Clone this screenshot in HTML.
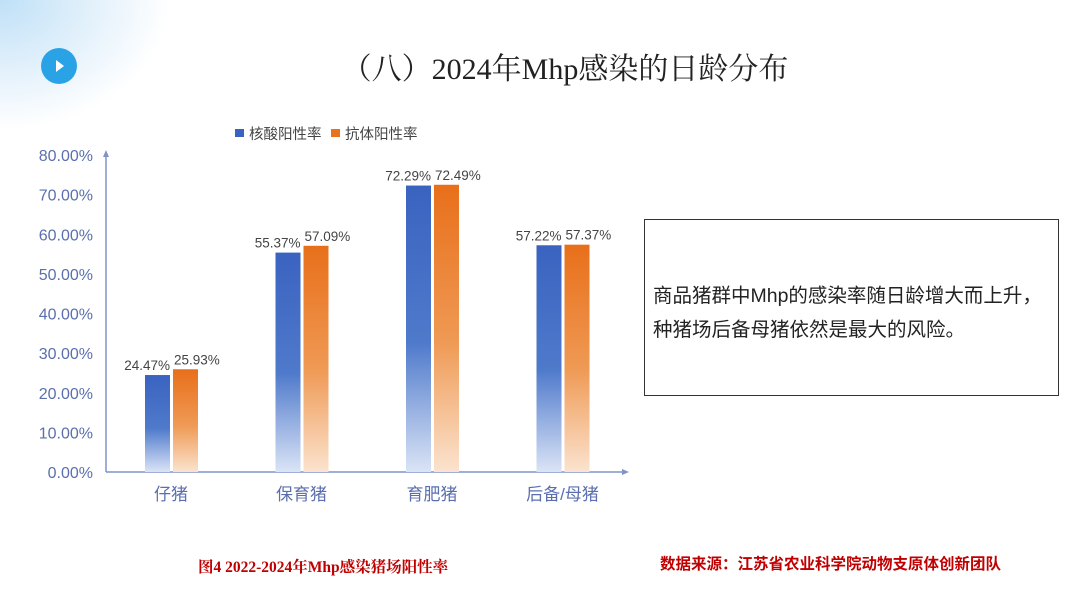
<!DOCTYPE html>
<html><head><meta charset="utf-8"><style>
body{margin:0;width:1080px;height:608px;overflow:hidden;background:#fff;font-family:"Liberation Sans","Noto Sans CJK SC",sans-serif;position:relative}
.bg{position:absolute;left:0;top:0;width:1080px;height:608px;background:radial-gradient(ellipse 170px 130px at 0 0,#bfe0f7 0%,#e3f1fb 55%,rgba(255,255,255,0) 100%)}
</style></head><body>
<div class="bg"></div>
<svg width="1080" height="608" style="position:absolute;left:0;top:0">
<defs>
<linearGradient id="gb" x1="0" y1="0" x2="0" y2="1"><stop offset="0" stop-color="#3a63c0"/><stop offset="0.55" stop-color="#4f7acb"/><stop offset="1" stop-color="#dbe4f6"/></linearGradient>
<linearGradient id="go" x1="0" y1="0" x2="0" y2="1"><stop offset="0" stop-color="#e86f1a"/><stop offset="0.55" stop-color="#ef9a55"/><stop offset="1" stop-color="#fbe3cf"/></linearGradient>
</defs>
<circle cx="59" cy="66" r="18" fill="#29a3e6"/>
<polygon points="56,60 64,66 56,72" fill="#fff"/>
<text x="565" y="79" text-anchor="middle" font-family="Liberation Serif,Noto Serif CJK SC,serif" font-size="30" fill="#222">（八）2024年Mhp感染的日龄分布</text>
<rect x="235" y="129" width="9" height="8" fill="#3a63c0"/>
<text x="249" y="139" font-size="14.5" fill="#444">核酸阳性率</text>
<rect x="331" y="129" width="9" height="8" fill="#e8731f"/>
<text x="345" y="139" font-size="14.5" fill="#444">抗体阳性率</text>
<g id="chart"></g>
<rect x="644.5" y="219.5" width="414" height="176" fill="none" stroke="#333"/>
<text x="653" y="302" font-size="19.5" fill="#222">商品猪群中Mhp的感染率随日龄增大而上升，</text>
<text x="653" y="336" font-size="19.5" fill="#222">种猪场后备母猪依然是最大的风险。</text>
<text x="198" y="572" font-family="Liberation Serif,Noto Serif CJK SC,serif" font-weight="bold" font-size="15.5" fill="#c00000">图4 2022-2024年Mhp感染猪场阳性率</text>
<text x="660" y="569" font-weight="bold" font-size="15.5" fill="#c00000">数据来源：江苏省农业科学院动物支原体创新团队</text>
</svg>
<script>
const categories=["仔猪","保育猪","育肥猪","后备/母猪"];
const nucleic=[24.47,55.37,72.29,57.22];
const antibody=[25.93,57.09,72.49,57.37];
const yTicks=[0,10,20,30,40,50,60,70,80];
const NS="http://www.w3.org/2000/svg";
const g=document.getElementById('chart');
const y=v=>472-v*(317/80);
const xc=i=>171+i*130.5;
function mk(t,a){const e=document.createElementNS(NS,t);for(const k in a)e.setAttribute(k,a[k]);g.appendChild(e);return e;}
yTicks.forEach(v=>{const t=mk('text',{x:93,y:y(v)+6,'text-anchor':'end','font-size':16,fill:'#5b6fae'});t.textContent=v.toFixed(2)+'%';

});
let ax=mk('line',{x1:106,y1:472,x2:106,y2:154,stroke:'#7f93c8','stroke-width':1.5});


let ar=mk('polygon',{points:'103,157 106,150 109,157',fill:'#7f93c8'});


let xa=mk('line',{x1:106,y1:472,x2:624,y2:472,stroke:'#7f93c8','stroke-width':1.5});


let xr=mk('polygon',{points:'622,469 629,472 622,475',fill:'#7f93c8'});


categories.forEach((c,i)=>{
 const cx=xc(i);
 const b1=mk('rect',{x:cx-26,y:y(nucleic[i]),width:25,height:472-y(nucleic[i]),fill:'url(#gb)'});
 
 
 const b2=mk('rect',{x:cx+2,y:y(antibody[i]),width:25,height:472-y(antibody[i]),fill:'url(#go)'});
 
 
 const l1=mk('text',{x:cx-1,y:y(nucleic[i])-5,'text-anchor':'end','font-size':13.5,fill:'#444'});l1.textContent=nucleic[i].toFixed(2)+'%';
 
 
 const l2=mk('text',{x:cx+3,y:y(antibody[i])-5,'text-anchor':'start','font-size':13.5,fill:'#444'});l2.textContent=antibody[i].toFixed(2)+'%';
 
 
 const t=mk('text',{x:cx,y:500,'text-anchor':'middle','font-size':17,fill:'#5b6fae'});t.textContent=c;
 
 
});
</script>
</body></html>
